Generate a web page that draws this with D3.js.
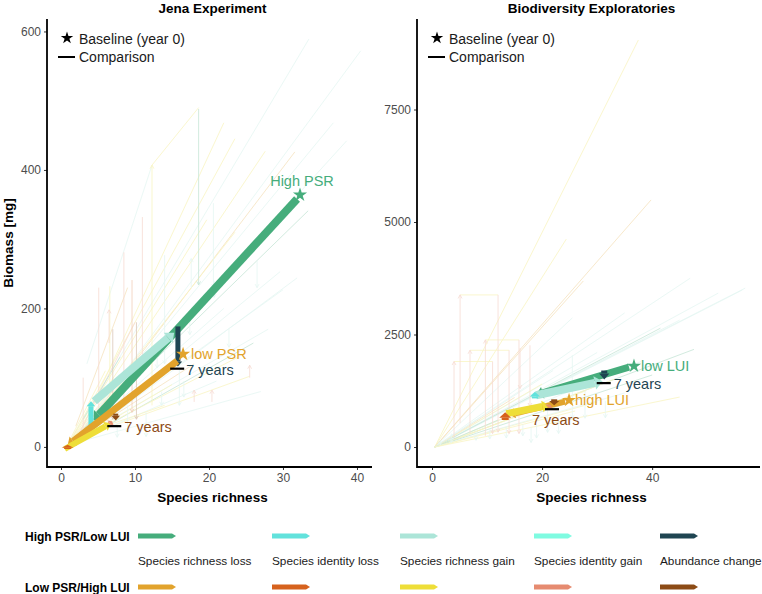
<!DOCTYPE html>
<html>
<head>
<meta charset="utf-8">
<script src="https://cdn.jsdelivr.net/npm/d3@7"></script>
<style>
  body { margin: 0; background: #fff; }
  svg { font-family: "Liberation Sans", Arial, sans-serif; }
</style>
</head>
<body>
<svg id="chart" width="762" height="594"></svg>
<script>
// ---- data ----
const stepNames = ["Species richness loss", "Species identity loss", "Species richness gain", "Species identity gain", "Abundance change"];
const groupNames = ["High PSR/Low LUI", "Low PSR/High LUI"];
const highColors = ["#46ad7c", "#62e2dc", "#ace5d8", "#7ffbe1", "#1f4552"];
const lowColors = ["#e2a32c", "#d6621d", "#eede38", "#e68b70", "#8c4b16"];
const allColors = highColors.concat(lowColors);

const jenaTicksX = [0, 10, 20, 30, 40];
const jenaTicksY = [0, 200, 400, 600];
const beTicksX = [0, 20, 40];
const beTicksY = [0, 2500, 5000, 7500];

// main trajectories, in drawing order: [step, x0, y0, x1, y1]
const jenaHigh = [
  [0, 31.9, 358, 4.4, 38],
  [1, 4.05, 28, 4.05, 66],
  [2, 4.5, 66, 15.3, 165],
  [4, 15.8, 174, 15.8, 116]
];
const jenaLow = [
  [0, 15.7, 124, 0.9, 2],
  [2, 0.5, -3, 6.7, 34],
  [1, 0.9, -3, 0.9, 3],
  [3, 6.6, 33, 6.9, 37],
  [4, 7.4, 48, 7.4, 38]
];
const beHigh = [
  [0, 35.8, 1775, 18.9, 1160],
  [2, 18.9, 1150, 31.0, 1460],
  [1, 18.7, 1080, 18.7, 1230],
  [4, 31.3, 1700, 31.3, 1500]
];
const beLow = [
  [0, 24.2, 1010, 14.0, 720],
  [2, 13.5, 740, 21.3, 930],
  [1, 13.3, 600, 13.3, 770],
  [3, 21.2, 880, 21.5, 940],
  [4, 22.2, 1060, 22.2, 930]
];

// baselines (stars) and comparisons (7 years)
const jenaBase = [[32.3, 364], [16.5, 134]];
const jenaComp = [[15.7, 113], [7.2, 30]];
const jenaLabels = ["High PSR", "low PSR"];
const beBase = [[36.7, 1800], [24.9, 1040]];
const beComp = [[31.2, 1420], [21.8, 840]];
const beLabels = ["low LUI", "high LUI"];
const compLabel = "7 years";

// single plots (faint): [x0, y0, x1, y1, colour index]
const jenaPlots = [
  [1.0, 5, 33.5, 589, 2], [2.0, 12, 40.5, 572, 2], [1.5, 6, 38.6, 442, 2],
  [1.0, 4, 36.8, 468, 2], [1.0, 4, 33.4, 341, 0], [1.0, 3, 23.5, 445, 7],
  [1.0, 3, 27.6, 427, 7], [1.5, 4, 31.6, 426, 5], [2.0, 8, 22.0, 468, 7],
  [2.0, 10, 29.6, 253, 2], [2.0, 6, 31.9, 244, 2], [1.0, 4, 19.7, 328, 7],
  [1.0, 4, 23.5, 310, 7], [3.0, 20, 30.0, 227, 2], [3.0, 15, 25.5, 102, 7],
  [2.0, 10, 28.0, 170, 2], [2.0, 5, 26.0, 150, 0], [1.0, 4, 24.0, 130, 7],
  [4.0, 30, 22.0, 200, 2], [3.0, 25, 20.0, 220, 0], [2.0, 10, 18.0, 120, 5],
  [1.0, 2, 15.0, 90, 7], [2.0, 8, 21.0, 95, 2], [1.5, 5, 17.0, 180, 2],
  [1.0, 3, 12.0, 140, 7], [2.5, 20, 10.0, 180, 8], [3.0, 40, 8.0, 130, 0],
  [1.0, 6, 6.0, 110, 7], [12.3, 407, 18.6, 490, 7], [3.5, 120, 12.3, 407, 2],
  [2.0, 15, 14.0, 60, 7], [1.0, 3, 27.0, 80, 2], [2.0, 30, 9.0, 230, 5]
];
const jenaMoves = [
  [18.6, 488, 234, 0], [12.3, 60, 407, 7], [20.6, 352, 230, 2], [11.0, 332, 120, 8],
  [8.5, 281, 60, 8], [9.6, 241, 50, 6], [5.1, 230, 50, 8], [6.6, 232, 60, 7],
  [14.0, 277, 120, 2], [17.6, 230, 272, 2], [26.5, 270, 230, 2], [25.5, 100, 118, 8],
  [13.6, 80, 60, 2], [16.6, 95, 72, 2], [18.0, 65, 82, 8], [20.4, 65, 82, 8],
  [22.7, 170, 144, 2], [20.7, 240, 216, 2], [17.4, 185, 162, 2], [6.5, 150, 198, 8],
  [13.0, 140, 114, 2], [7.6, 30, 14, 2], [3.0, 100, 20, 8], [10.2, 180, 40, 9],
  [16.0, 150, 60, 2], [9.0, 60, 20, 2], [11.5, 50, 15, 2], [7.0, 170, 40, 9]
];
const bePlots = [
  [0.5, 0, 37.5, 9044, 7], [0.5, 0, 24.4, 4620, 7], [0.5, 0, 39.8, 5490, 5],
  [0.5, 0, 27.5, 3690, 5], [3.0, 200, 46.9, 3750, 2], [5.0, 300, 56.9, 3530, 2],
  [0.5, 0, 56.4, 3490, 2], [0.5, 0, 52.0, 3420, 2], [0.5, 0, 45.0, 2820, 2],
  [0.5, 0, 47.6, 2170, 0], [0.5, 0, 45.0, 1110, 7], [0.5, 0, 35.0, 2980, 2],
  [0.5, 0, 25.5, 2870, 2], [0.5, 0, 41.5, 2640, 0], [0.5, 0, 30.0, 2100, 2],
  [0.5, 0, 38.0, 1900, 2], [0.5, 0, 33.0, 1500, 7], [0.5, 0, 28.0, 1250, 7],
  [0.5, 0, 40.0, 1600, 0], [0.5, 0, 20.0, 1400, 7], [0.5, 0, 15.0, 1100, 5],
  [0.5, 0, 22.0, 1700, 2], [0.5, 0, 18.0, 900, 7], [0.5, 0, 30.0, 1000, 7],
  [0.5, 0, 12.0, 600, 0], [0.5, 0, 35.0, 1200, 2], [0.5, 0, 26.0, 800, 7],
  [5.1, 3380, 12.0, 3380, 7], [6.9, 2150, 14.0, 2150, 7], [9.7, 2380, 15.8, 2380, 7],
  [4.0, 1900, 11.0, 1900, 7]
];
const beMoves = [
  [5.1, 530, 3380, 8], [12.0, 3380, 330, 8], [6.9, 300, 2150, 8], [14.0, 2150, 300, 8],
  [9.7, 250, 2380, 8], [15.8, 2380, 300, 8], [17.8, 2260, 900, 8], [25.5, 2040, 640, 2],
  [27.8, 1240, 640, 2], [31.5, 1020, 650, 2], [21.0, 880, 325, 2], [16.0, 2200, 1300, 8],
  [4.0, 200, 1900, 8], [11.0, 1900, 300, 8], [19.0, 500, 200, 2], [1.5, 150, 50, 2],
  [3.5, 300, 100, 2], [8.0, 350, 150, 2], [10.5, 400, 180, 2], [13.5, 450, 200, 2],
  [16.5, 500, 250, 2], [18.0, 450, 100, 2], [23.0, 700, 300, 2]
];

// ---- drawing ----
const svg = d3.select("#chart");
const tickColor = "#4d4d4d";

function chevron(g, x0, y0, x1, y1, color, len) {
  const a = Math.atan2(y1 - y0, x1 - x0);
  const pts = [
    [x1 - len * Math.cos(a - 0.5), y1 - len * Math.sin(a - 0.5)],
    [x1, y1],
    [x1 - len * Math.cos(a + 0.5), y1 - len * Math.sin(a + 0.5)]
  ];
  g.append("polyline")
    .attr("points", pts.map(p => p.join(",")).join(" "))
    .attr("fill", "none")
    .attr("stroke", color)
    .attr("stroke-width", 0.8);
}

function thickArrow(g, x0, y0, x1, y1, color, w) {
  const dx = x1 - x0, dy = y1 - y0;
  const len = Math.hypot(dx, dy) || 1;
  const ux = dx / len, uy = dy / len;
  const head = Math.max(Math.min(w * 1.0, len * 0.7), 2.5);
  const hw = w * 0.85;
  const bx = x1 - ux * head, by = y1 - uy * head;
  if (len > head) {
    g.append("line")
      .attr("x1", x0).attr("y1", y0).attr("x2", bx).attr("y2", by)
      .attr("stroke", color).attr("stroke-width", w);
  }
  g.append("polygon")
    .attr("points", [[x1, y1], [bx - uy * hw, by + ux * hw], [bx + uy * hw, by - ux * hw]]
      .map(p => p.join(",")).join(" "))
    .attr("fill", color);
}

function drawPanel(cfg) {
  const x = d3.scaleLinear().domain(cfg.xDomain).range([cfg.left, cfg.right]);
  const y = d3.scaleLinear().domain(cfg.yDomain).range([467, 19]);
  const g = svg.append("g");

  // faint single plots
  const bg = g.append("g").attr("opacity", 0.3);
  cfg.plots.forEach(d => {
    bg.append("line")
      .attr("x1", x(d[0])).attr("y1", y(d[1]))
      .attr("x2", x(d[2])).attr("y2", y(d[3]))
      .attr("stroke", allColors[d[4]]).attr("stroke-width", 0.8);
  });
  cfg.moves.forEach(d => {
    bg.append("line")
      .attr("x1", x(d[0])).attr("y1", y(d[1]))
      .attr("x2", x(d[0])).attr("y2", y(d[2]))
      .attr("stroke", allColors[d[3]]).attr("stroke-width", 0.8);
    chevron(bg, x(d[0]), y(d[1]), x(d[0]), y(d[2]), allColors[d[3]], 4);
  });

  // mean trajectories
  [[cfg.high, highColors], [cfg.low, lowColors]].forEach(([steps, cols], gi) => {
    steps.forEach(s => {
      thickArrow(g, x(s[1]), y(s[2]), x(s[3]), y(s[4]), cols[s[0]], cfg.widths[gi][s[0]]);
    });
  });

  // baselines and comparisons
  const star = d3.symbol().type(d3.symbolStar).size(62);
  cfg.base.forEach((b, i) => {
    g.append("path").attr("d", star)
      .attr("transform", `translate(${x(b[0])},${y(b[1])})`)
      .attr("fill", i === 0 ? highColors[0] : lowColors[0]);
  });
  cfg.comp.forEach(c => {
    g.append("line")
      .attr("x1", x(c[0]) - 7).attr("x2", x(c[0]) + 7)
      .attr("y1", y(c[1])).attr("y2", y(c[1]))
      .attr("stroke", "#000").attr("stroke-width", 2.2);
  });

  // labels
  cfg.labelPos(x, y, g);

  // axes
  const ax = g.append("g").attr("transform", "translate(0,467)")
    .call(d3.axisBottom(x).tickValues(cfg.ticksX).tickFormat(d3.format("d")).tickSize(3).tickPadding(3));
  const ay = g.append("g").attr("transform", `translate(${cfg.left},0)`)
    .call(d3.axisLeft(y).tickValues(cfg.ticksY).tickFormat(d3.format("d")).tickSize(3).tickPadding(3));
  [ax, ay].forEach(a => {
    a.select(".domain").remove();
    a.selectAll(".tick line").attr("stroke", "#333");
    a.selectAll(".tick text").attr("fill", tickColor).attr("font-size", 12)
      .attr("font-family", "Liberation Sans, Arial, sans-serif");
  });
  g.append("line").attr("x1", cfg.left).attr("x2", cfg.right).attr("y1", 467).attr("y2", 467)
    .attr("stroke", "#000").attr("stroke-width", 1.8);
  g.append("line").attr("x1", cfg.left).attr("x2", cfg.left).attr("y1", 19).attr("y2", 467.9)
    .attr("stroke", "#000").attr("stroke-width", 1.8);

  // titles
  g.append("text").attr("x", (cfg.left + cfg.right) / 2 + 3).attr("y", 13)
    .attr("text-anchor", "middle").attr("font-weight", "bold").attr("font-size", 13.5)
    .text(cfg.title);
  g.append("text").attr("x", (cfg.left + cfg.right) / 2 + 3).attr("y", 502)
    .attr("text-anchor", "middle").attr("font-weight", "bold").attr("font-size", 13.5)
    .text("Species richness");

  // in-panel key
  g.append("path").attr("d", d3.symbol().type(d3.symbolStar).size(48))
    .attr("transform", `translate(${cfg.left + 20},38)`).attr("fill", "#000");
  g.append("text").attr("x", cfg.left + 32).attr("y", 43.5).attr("font-size", 14)
    .attr("fill", "#1a1a1a").text("Baseline (year 0)");
  g.append("line").attr("x1", cfg.left + 11).attr("x2", cfg.left + 28)
    .attr("y1", 57).attr("y2", 57).attr("stroke", "#000").attr("stroke-width", 2);
  g.append("text").attr("x", cfg.left + 32).attr("y", 62).attr("font-size", 14)
    .attr("fill", "#1a1a1a").text("Comparison");
}

function label(g, px, py, txt, color, anchor) {
  g.append("text").attr("x", px).attr("y", py).attr("font-size", 14.5)
    .attr("fill", color).attr("text-anchor", anchor || "start").text(txt);
}

drawPanel({
  title: "Jena Experiment", left: 47, right: 372,
  xDomain: [-1.89, 42.03], yDomain: [-29, 618],
  ticksX: jenaTicksX, ticksY: jenaTicksY,
  plots: jenaPlots, moves: jenaMoves,
  high: jenaHigh, low: jenaLow,
  widths: [[8, 5, 8, 5, 5], [7, 7, 6, 5, 5]],
  base: jenaBase, comp: jenaComp,
  labelPos: (x, y, g) => {
    label(g, x(jenaBase[0][0]) + 2, y(jenaBase[0][1]) - 9, jenaLabels[0], highColors[0], "middle");
    label(g, x(jenaBase[1][0]) + 8, y(jenaBase[1][1]) + 5, jenaLabels[1], lowColors[0]);
    label(g, x(jenaComp[0][0]) + 9, y(jenaComp[0][1]) + 6, compLabel, highColors[4]);
    label(g, x(jenaComp[1][0]) + 10, y(jenaComp[1][1]) + 6, compLabel, lowColors[4]);
  }
});

drawPanel({
  title: "Biodiversity Exploratories", left: 417, right: 760,
  xDomain: [-2.73, 59.6], yDomain: [-444, 9511],
  ticksX: beTicksX, ticksY: beTicksY,
  plots: bePlots, moves: beMoves,
  high: beHigh, low: beLow,
  widths: [[7, 6, 8, 5, 6], [6, 7, 7, 6, 6]],
  base: beBase, comp: beComp,
  labelPos: (x, y, g) => {
    label(g, x(beBase[0][0]) + 7, y(beBase[0][1]) + 5, beLabels[0], highColors[0]);
    label(g, x(beBase[1][0]) + 6, y(beBase[1][1]) + 5, beLabels[1], lowColors[0]);
    label(g, x(beComp[0][0]) + 10, y(beComp[0][1]) + 6, compLabel, highColors[4]);
    label(g, x(beComp[1][0]) - 20, y(beComp[1][1]) + 16, compLabel, lowColors[4]);
  }
});

// y axis title
svg.append("text").attr("transform", "translate(13,243) rotate(-90)")
  .attr("text-anchor", "middle").attr("font-weight", "bold").attr("font-size", 13.5)
  .text("Biomass [mg]");

// bottom key
const keyX = [138, 272, 400, 534, 660];
const key = svg.append("g");
[highColors, lowColors].forEach((cols, r) => {
  const yy = r === 0 ? 536 : 587;
  key.append("text").attr("x", 25).attr("y", yy + 4.5).attr("font-weight", "bold")
    .attr("font-size", 12).text(groupNames[r]);
  cols.forEach((c, i) => {
    const x0 = keyX[i], w = 38, h = 5;
    key.append("polygon")
      .attr("points", [[x0, yy - h / 2], [x0 + w - 4, yy - h / 2], [x0 + w, yy], [x0 + w - 4, yy + h / 2], [x0, yy + h / 2]]
        .map(p => p.join(",")).join(" "))
      .attr("fill", c);
  });
});
stepNames.forEach((n, i) => {
  key.append("text").attr("x", keyX[i]).attr("y", 565).attr("font-size", 11.8)
    .attr("fill", "#1a1a1a").text(n);
});
</script>
</body>
</html>
